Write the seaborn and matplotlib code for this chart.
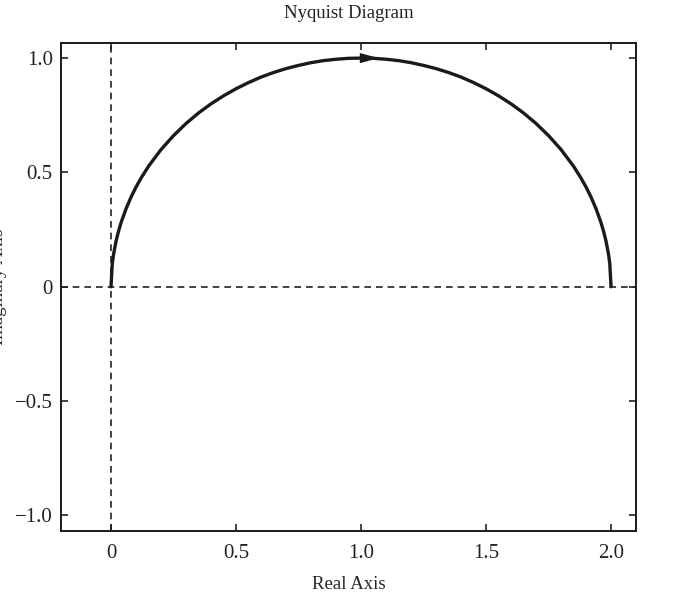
import numpy as np
import pandas as pd
import seaborn as sns
import matplotlib.pyplot as plt

# points (upper half, w from 0 to inf)
real_part = [0.0, 0.005, 0.01, 0.02, 0.03, 0.04, 0.06, 0.08, 0.10, 0.12, 0.15, 0.20, 0.25,
             0.30, 0.35, 0.40, 0.45, 0.50, 0.55, 0.60, 0.65, 0.70, 0.75, 0.80, 0.85,
             0.90, 0.95, 1.00, 1.05, 1.10, 1.15, 1.20, 1.25, 1.30, 1.35, 1.40, 1.45,
             1.50, 1.55, 1.60, 1.65, 1.70, 1.75, 1.80, 1.85, 1.88, 1.90, 1.92, 1.94,
             1.96, 1.97, 1.98, 1.99, 1.995, 2.00]
imag_part = [0.0, 0.100, 0.141, 0.199, 0.243, 0.280, 0.341, 0.392, 0.436, 0.475, 0.527,
             0.600, 0.661, 0.714, 0.760, 0.800, 0.835, 0.866, 0.893, 0.917, 0.937,
             0.954, 0.968, 0.980, 0.989, 0.995, 0.999, 1.000, 0.999, 0.995, 0.989,
             0.980, 0.968, 0.954, 0.937, 0.917, 0.893, 0.866, 0.835, 0.800, 0.760,
             0.714, 0.661, 0.600, 0.527, 0.475, 0.436, 0.392, 0.341, 0.280, 0.243,
             0.199, 0.141, 0.100, 0.0]
xticks = [0, 0.5, 1.0, 1.5, 2.0]
xtick_labels = ["0", "0.5", "1.0", "1.5", "2.0"]
yticks = [-1.0, -0.5, 0, 0.5, 1.0]
ytick_labels = ["\u22121.0", "\u22120.5", "0", "0.5", "1.0"]

df = pd.DataFrame({"re": real_part, "im": imag_part})

sns.set_theme(style="ticks")
plt.rcParams["font.family"] = ["Liberation Serif", "DejaVu Serif"]
plt.rcParams["text.color"] = "#222222"

fig = plt.figure(figsize=(6.75, 6.1), dpi=100)
ax = fig.add_axes([0.0904, 0.1295, 0.8519, 0.80])

ax.axhline(0, color="#222222", lw=1.2, ls=(0, (4, 3)), zorder=1)
ax.axvline(0, color="#222222", lw=1.2, ls=(0, (4, 3)), zorder=1)

sns.lineplot(data=df, x="re", y="im", sort=False, color="#1a1a1a", lw=2.4, ax=ax, zorder=3)

# direction arrow at the top of the curve
ax.annotate("", xy=(1.07, 1.0), xytext=(0.95, 1.0),
            arrowprops=dict(arrowstyle="-|>,head_length=1.1,head_width=0.3",
                            color="#1a1a1a", lw=0.1, shrinkA=0, shrinkB=0), zorder=4)

ax.set_xlim(-0.2, 2.1)
ax.set_ylim(-1.068, 1.066)
ax.set_xticks(xticks)
ax.set_xticklabels(xtick_labels)
ax.set_yticks(yticks)
ax.set_yticklabels(ytick_labels)
ax.tick_params(direction="in", length=5, width=1.2, top=True, right=True,
               labelsize=15, colors="#222222", pad=6)
ax.tick_params(axis="x", pad=9)

for s in ax.spines.values():
    s.set_linewidth(1.4)
    s.set_color("#1a1a1a")

ax.set_title("Nyquist Diagram", fontsize=13.5, pad=18)
ax.set_xlabel("Real Axis", fontsize=13.5, labelpad=10)
ax.set_ylabel("Imaginary Axis", fontsize=13.5)
ax.yaxis.set_label_coords(-0.094, 0.5)

fig.savefig("out.png", dpi=100)
